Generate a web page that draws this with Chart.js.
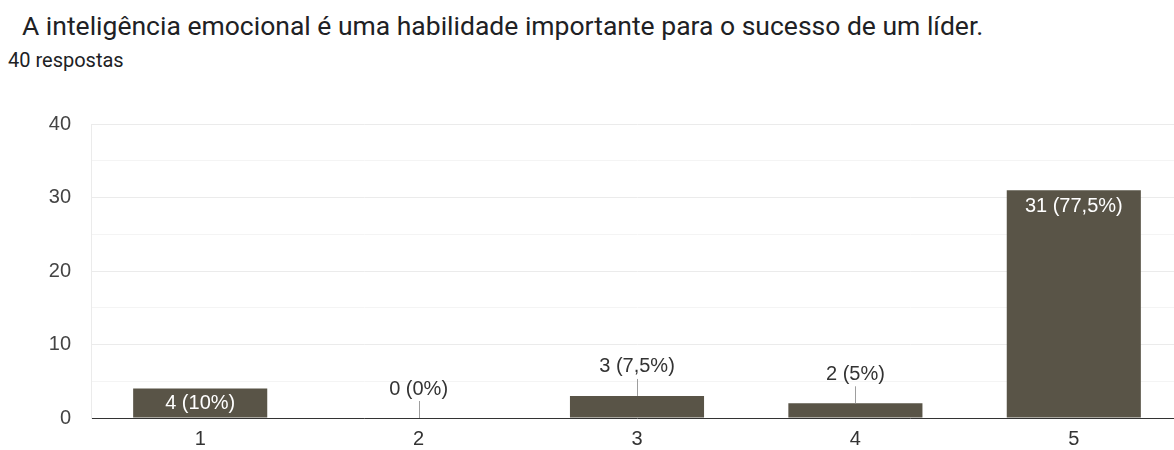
<!DOCTYPE html>
<html>
<head>
<meta charset="utf-8">
<script src="https://cdn.jsdelivr.net/npm/chart.js@4/dist/chart.umd.min.js"></script>
<style>
  html, body { margin: 0; padding: 0; background: #fff; overflow: hidden; }
  #wrap { position: relative; width: 1174px; height: 450px; overflow: hidden; }
  #title { position: absolute; left: 22px; top: 10px; font: 26.5px Roboto, sans-serif; color: #202124; white-space: nowrap; }
  #sub { position: absolute; left: 8px; top: 48px; font: 20px Roboto, sans-serif; color: #202124; }
  #box { position: absolute; left: 0; top: 0; width: 1190px; height: 450px; }
</style>
</head>
<body>
<div id="wrap">
  <div id="title">A inteligência emocional é uma habilidade importante para o sucesso de um líder.</div>
  <div id="sub">40 respostas</div>
  <div id="box"><canvas id="chart"></canvas></div>
</div>
<script>
"use strict";

const categories = ['1', '2', '3', '4', '5'];
const counts = [4, 0, 3, 2, 31];
const labels = ['4 (10%)', '0 (0%)', '3 (7,5%)', '2 (5%)', '31 (77,5%)'];

const BAR = '#595447';
const FONT = 'Arial, "Liberation Sans", sans-serif';

// labels: inside the bar when it's tall enough, otherwise above with a small line
const barLabels = {
    id: 'barLabels',
    afterDatasetsDraw(chart) {
        const ctx = chart.ctx;
        const meta = chart.getDatasetMeta(0);
        ctx.save();
        ctx.font = '20px ' + FONT;
        ctx.textAlign = 'center';
        ctx.textBaseline = 'middle';
        meta.data.forEach((bar, i) => {
            const h = bar.base - bar.y;
            if (h >= 26) {
                ctx.fillStyle = '#ffffff';
                const y = h > 60 ? bar.y + 16 : bar.y + h / 2;
                ctx.fillText(labels[i], bar.x, y);
            } else {
                ctx.strokeStyle = '#9e9e9e';
                ctx.lineWidth = 1;
                ctx.beginPath();
                ctx.moveTo(Math.round(bar.x) + 0.5, bar.y);
                ctx.lineTo(Math.round(bar.x) + 0.5, bar.y - 17);
                ctx.stroke();
                ctx.fillStyle = '#333333';
                ctx.fillText(labels[i], bar.x, bar.y - 29);
            }
        });
        ctx.restore();
    }
};

new Chart(document.getElementById('chart'), {
    type: 'bar',
    data: {
        labels: categories,
        datasets: [{
            data: counts,
            backgroundColor: BAR,
            borderWidth: 0,
            barPercentage: 0.614,
            categoryPercentage: 1
        }]
    },
    options: {
        responsive: true,
        maintainAspectRatio: false,
        animation: false,
        layout: { padding: { top: 124, right: 7, bottom: 0, left: 0 } },
        plugins: {
            legend: { display: false },
            tooltip: { enabled: false }
        },
        scales: {
            x: {
                grid: { display: false },
                border: { color: '#333333', width: 1 },
                ticks: {
                    color: '#333333',
                    padding: 1,
                    font: { family: FONT, size: 20 }
                },
                afterFit: (scale) => { scale.height = 29; }
            },
            y: {
                min: 0,
                max: 40,
                ticks: {
                    stepSize: 5,
                    color: '#444444',
                    padding: 20,
                    font: { family: FONT, size: 20 },
                    callback: (v) => (v % 10 === 0 ? v : '')
                },
                grid: {
                    drawTicks: false,
                    color: (c) => (c.tick.value % 10 === 0 ? '#ebebeb' : '#f4f4f4')
                },
                border: { color: '#ebebeb' },
                afterFit: (scale) => { scale.width = 91; }
            }
        }
    },
    plugins: [barLabels]
});
</script>
</body>
</html>
